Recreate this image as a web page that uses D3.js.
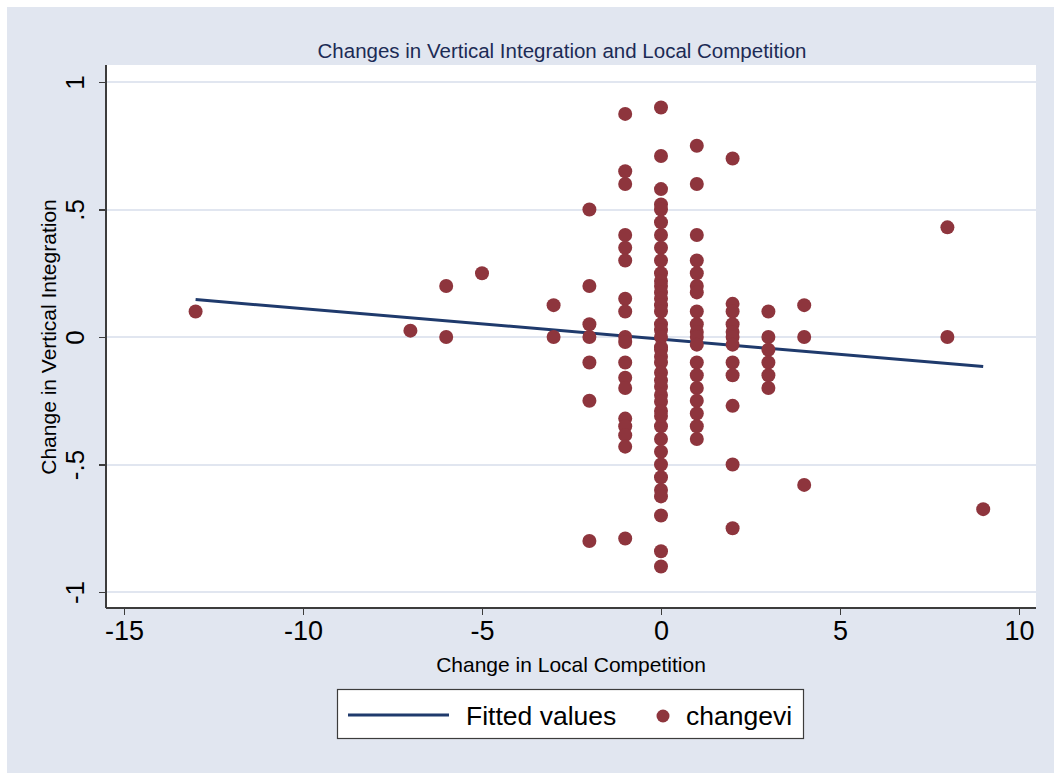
<!DOCTYPE html>
<html lang="en">
<head>
    <meta charset="utf-8">
    <script type="text/javascript" src="https://cdn.jsdelivr.net/npm/d3@7/dist/d3.min.js"></script>
    <style>
        body {
            margin: 0;
            background: #ffffff;
        }

        text {
            font-family: 'Liberation Sans', Arial, sans-serif;
            fill: #000000;
        }

        .axis path,
        .axis line {
            fill: none;
            stroke: #3c3c3c;
            stroke-width: 1.5;
            shape-rendering: crispEdges;
        }

        .grid line {
            stroke: #e1e6f0;
            stroke-width: 2.5;
            shape-rendering: crispEdges;
        }

        .fit {
            fill: none;
            stroke: #1f3a6c;
            stroke-width: 3;
        }

        .dot {
            fill: #8e353d;
        }
    </style>
</head>
<body>
<div id="chart"></div>

<script>

    // x values of each point (change in local competition)
    var changeX = [
        -13,
        -7,
        -6, -6,
        -5,
        -3, -3,
        -2, -2, -2, -2, -2, -2, -2,
        -1, -1, -1, -1, -1, -1, -1, -1, -1, -1, -1, -1, -1, -1, -1, -1, -1, -1,
        0, 0, 0, 0, 0, 0, 0, 0, 0, 0, 0, 0, 0, 0, 0, 0, 0, 0, 0, 0,
        0, 0, 0, 0, 0, 0, 0, 0, 0, 0, 0, 0, 0, 0, 0, 0, 0, 0, 0, 0,
        1, 1, 1, 1, 1, 1, 1, 1, 1, 1, 1, 1, 1, 1, 1, 1, 1, 1, 1,
        2, 2, 2, 2, 2, 2, 2, 2, 2, 2, 2, 2,
        3, 3, 3, 3, 3, 3,
        4, 4, 4,
        8, 8,
        9
    ];

    // y values of each point (changevi)
    var changeVI = [
        0.10,
        0.025,
        0.20, 0,
        0.25,
        0.125, 0,
        0.50, 0.20, 0.05, 0, -0.10, -0.25, -0.80,
        0.875, 0.65, 0.60, 0.40, 0.35, 0.30, 0.15, 0.10, 0, -0.02, -0.10, -0.16, -0.20, -0.32, -0.35, -0.385, -0.43, -0.79,
        0.90, 0.71, 0.58, 0.52, 0.50, 0.45, 0.40, 0.35, 0.30, 0.25, 0.22, 0.20, 0.175, 0.15, 0.125, 0.10, 0.05, 0.027, 0, -0.04,
        -0.05, -0.077, -0.10, -0.14, -0.195, -0.227, -0.254, -0.29, -0.35, -0.40, -0.45, -0.50, -0.55, -0.60, -0.625, -0.70, -0.84, -0.90, -0.17, -0.31,
        0.75, 0.60, 0.40, 0.30, 0.25, 0.20, 0.175, 0.10, 0.05, 0.02, 0, -0.03, -0.10, -0.15, -0.20, -0.25, -0.30, -0.35, -0.40,
        0.70, 0.13, 0.10, 0.05, 0.02, 0, -0.03, -0.10, -0.15, -0.27, -0.50, -0.75,
        0.10, 0, -0.05, -0.10, -0.15, -0.20,
        0.125, 0, -0.58,
        0.43, 0,
        -0.675
    ];

    // fitted line end points
    var fitX = [-13, 9];
    var fitY = [0.147, -0.116];

    var xTicks = [-15, -10, -5, 0, 5, 10];
    var xTickLabels = ["-15", "-10", "-5", "0", "5", "10"];
    var yTicks = [-1, -0.5, 0, 0.5, 1];
    var yTickLabels = ["-1", "-.5", "0", ".5", "1"];

    var legendLabels = ["Fitted values", "changevi"];

    var W = 1054, H = 773;
    var plot = {left: 106, right: 1036, top: 65, bottom: 608};

    var svg = d3.select("#chart").append("svg")
        .attr("width", W)
        .attr("height", H);

    // graph region
    svg.append("rect")
        .attr("x", 7)
        .attr("y", 7)
        .attr("width", W - 7)
        .attr("height", H - 7)
        .attr("fill", "#e1e6f0");

    // plot region
    svg.append("rect")
        .attr("x", plot.left)
        .attr("y", plot.top)
        .attr("width", plot.right - plot.left)
        .attr("height", plot.bottom - plot.top)
        .attr("fill", "#ffffff");

    var x = d3.scaleLinear()
        .domain([-15, 10])
        .range([124, 1019]);

    var y = d3.scaleLinear()
        .domain([-1, 1])
        .range([592, 82]);

    // horizontal grid lines
    svg.append("g")
        .attr("class", "grid")
        .selectAll("line")
        .data(yTicks)
        .enter().append("line")
        .attr("x1", plot.left)
        .attr("x2", plot.right)
        .attr("y1", function (d) { return Math.round(y(d)); })
        .attr("y2", function (d) { return Math.round(y(d)); });

    // x axis
    var xAxis = d3.axisBottom(x)
        .tickValues(xTicks)
        .tickSize(7)
        .tickSizeOuter(0)
        .tickPadding(6)
        .tickFormat(function (d, i) { return xTickLabels[i]; });

    var gx = svg.append("g")
        .attr("class", "axis x")
        .attr("transform", "translate(0," + plot.bottom + ")")
        .call(xAxis);
    gx.select(".domain").attr("d", "M" + plot.left + ",0H" + plot.right);
    gx.selectAll("text")
        .attr("font-size", 27)
        .attr("fill", "#000")
        .attr("font-family", "'Liberation Sans', Arial, sans-serif");

    // y axis
    var yAxis = d3.axisLeft(y)
        .tickValues(yTicks)
        .tickSize(7)
        .tickSizeOuter(0)
        .tickFormat(function (d, i) { return yTickLabels[i]; });

    var gy = svg.append("g")
        .attr("class", "axis y")
        .attr("transform", "translate(" + plot.left + ",0)")
        .call(yAxis);
    gy.select(".domain").attr("d", "M0," + plot.top + "V" + plot.bottom);
    gy.selectAll("text")
        .attr("font-size", 26)
        .attr("fill", "#000")
        .attr("font-family", "'Liberation Sans', Arial, sans-serif")
        .attr("x", null)
        .attr("dy", null)
        .attr("text-anchor", "middle")
        .attr("transform", "translate(-22,0) rotate(-90)");

    // fitted values line
    var line = d3.line()
        .x(function (d) { return x(d[0]); })
        .y(function (d) { return y(d[1]); });

    svg.append("path")
        .datum(fitX.map(function (d, i) { return [d, fitY[i]]; }))
        .attr("class", "fit")
        .attr("d", line);

    // scatter points
    svg.selectAll(".dot")
        .data(changeX)
        .enter().append("circle")
        .attr("class", "dot")
        .attr("cx", function (d) { return x(d); })
        .attr("cy", function (d, i) { return y(changeVI[i]); })
        .attr("r", 7);

    // titles
    svg.append("text")
        .attr("x", 562)
        .attr("y", 58)
        .attr("text-anchor", "middle")
        .attr("font-size", 20.5)
        .style("fill", "#1c2b55")
        .text("Changes in Vertical Integration and Local Competition");

    svg.append("text")
        .attr("x", 571)
        .attr("y", 672)
        .attr("text-anchor", "middle")
        .attr("font-size", 21)
        .text("Change in Local Competition");

    svg.append("text")
        .attr("transform", "translate(56,337) rotate(-90)")
        .attr("text-anchor", "middle")
        .attr("font-size", 21)
        .text("Change in Vertical Integration");

    // legend
    var legend = svg.append("g");

    legend.append("rect")
        .attr("x", 337.5)
        .attr("y", 689.5)
        .attr("width", 466)
        .attr("height", 49)
        .attr("fill", "#ffffff")
        .attr("stroke", "#3c3c3c")
        .attr("stroke-width", 1.2);

    legend.append("line")
        .attr("x1", 348)
        .attr("x2", 449)
        .attr("y1", 715)
        .attr("y2", 715)
        .attr("stroke", "#1f3a6c")
        .attr("stroke-width", 3);

    legend.append("text")
        .attr("x", 466)
        .attr("y", 725)
        .attr("font-size", 26.5)
        .text(legendLabels[0]);

    legend.append("circle")
        .attr("cx", 663)
        .attr("cy", 716)
        .attr("r", 6.5)
        .attr("fill", "#8e353d");

    legend.append("text")
        .attr("x", 686)
        .attr("y", 725)
        .attr("font-size", 26.5)
        .text(legendLabels[1]);

</script>
</body>
</html>
